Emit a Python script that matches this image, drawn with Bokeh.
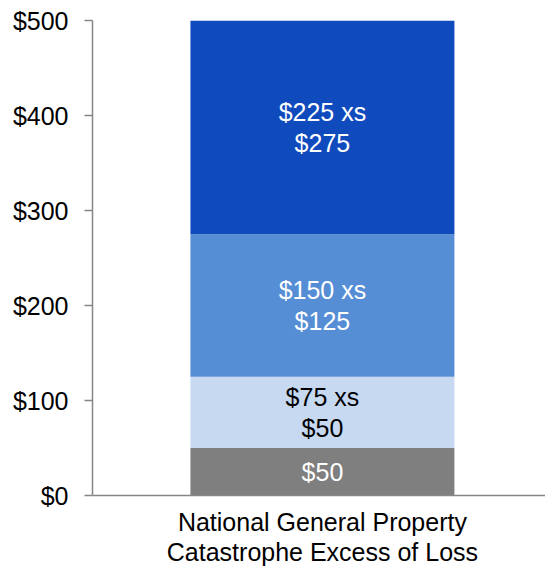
from bokeh.plotting import figure
from bokeh.models import ColumnDataSource, FixedTicker, Range1d
from bokeh.core.properties import value
from bokeh.embed import file_html
from bokeh.resources import INLINE

# ---- data ----
category = "National General Property\nCatastrophe Excess of Loss"
attachments = [0, 50, 125, 275]
limits = [50, 75, 150, 225]
layer_labels = ["$50", "$75 xs\n$50", "$150 xs\n$125", "$225 xs\n$275"]
layer_colors = ["#7F7F7F", "#C6D9F1", "#558ED5", "#0F4BBD"]
label_colors = ["#FFFFFF", "#000000", "#FFFFFF", "#FFFFFF"]
y_ticks = [0, 100, 200, 300, 400, 500]
y_tick_labels = ["$0", "$100", "$200", "$300", "$400", "$500"]

tops = [a + l for a, l in zip(attachments, limits)]
mids = [(a + t) / 2 for a, t in zip(attachments, tops)]
src = ColumnDataSource(dict(
    x=[0] * len(attachments), bottom=attachments, top=tops, mid=mids,
    color=layer_colors, label=layer_labels, tcolor=label_colors,
))

FONT = "Liberation Sans"
FS = "25px"

p = figure(frame_width=453, frame_height=475, output_backend="svg",
           toolbar_location=None,
           x_range=Range1d(-0.871, 0.845), y_range=Range1d(0, 500),
           min_border_left=92, min_border_right=0, min_border_top=20,
           min_border_bottom=66)
p.outline_line_color = None
p.xgrid.visible = False
p.ygrid.visible = False

p.vbar(x="x", width=1, bottom="bottom", top="top", color="color",
       line_color=None, source=src)
p.text(x="x", y="mid", text="label", text_color="tcolor",
       text_align="center", text_baseline="middle",
       text_font=value(FONT), text_font_size=FS, text_line_height=1.1,
       source=src)

AX = "#868686"
# y axis
p.yaxis.ticker = FixedTicker(ticks=y_ticks)
p.yaxis.major_label_overrides = {t: l for t, l in zip(y_ticks, y_tick_labels)}
p.yaxis.axis_line_color = AX
p.yaxis.axis_line_width = 1.5
p.yaxis.major_tick_line_color = AX
p.yaxis.major_tick_line_width = 1.5
p.yaxis.major_tick_out = 8
p.yaxis.major_tick_in = 0
p.yaxis.minor_tick_line_color = None
p.yaxis.major_label_text_font = FONT
p.yaxis.major_label_text_font_size = FS
p.yaxis.major_label_text_color = "#000000"
p.yaxis.major_label_standoff = 16

# x axis
p.xaxis.ticker = FixedTicker(ticks=[0])
p.xaxis.major_label_overrides = {0: category}
p.xaxis.axis_line_color = AX
p.xaxis.axis_line_width = 1.5
p.xaxis.major_tick_line_color = None
p.xaxis.major_tick_out = 0
p.xaxis.minor_tick_line_color = None
p.xaxis.minor_tick_out = 0
p.xaxis.major_label_text_font = FONT
p.xaxis.major_label_text_font_size = FS
p.xaxis.major_label_text_color = "#000000"
p.xaxis.major_label_standoff = 12
p.xaxis.major_label_text_line_height = 1.08

open("out.html", "w").write(file_html(p, INLINE))
